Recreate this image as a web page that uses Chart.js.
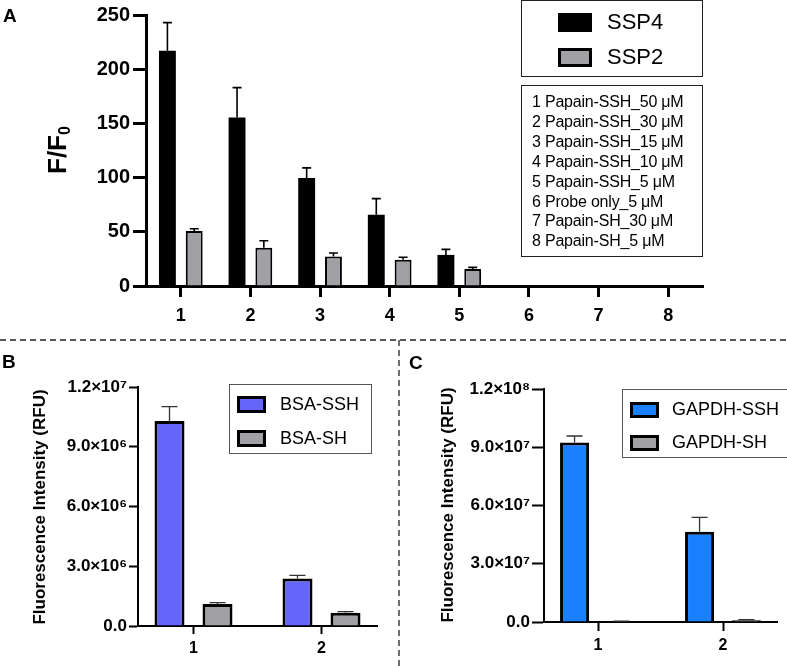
<!DOCTYPE html>
<html>
<head>
<meta charset="utf-8">
<script src="https://cdn.jsdelivr.net/npm/chart.js@4.4.1/dist/chart.umd.min.js"></script>
<style>
  body { margin: 0; background: #fff; font-family: "Liberation Sans", Arial, sans-serif; }
  #fig { position: relative; width: 787px; height: 666px; overflow: hidden; }
  canvas { position: absolute; }
  .panel { position: absolute; font-weight: bold; font-size: 19px; line-height: 1; }
  .ytitle { position: absolute; font-weight: bold; white-space: nowrap; line-height: 1;
            transform: translate(-50%, -50%) rotate(-90deg); }
  .ytitle sub { font-size: 0.62em; vertical-align: -0.25em; }
  .lg { position: absolute; box-sizing: border-box; background: #fff; }
  .lg-row { position: absolute; display: flex; align-items: center; white-space: nowrap; }
  .sw { box-sizing: border-box; flex: none; }
  .samples div { white-space: nowrap; }
</style>
</head>
<body>
<div id="fig">
  <canvas id="chartA" width="787" height="335" style="left:0px;top:0px"></canvas>
  <canvas id="chartB" width="397" height="324" style="left:0px;top:342px"></canvas>
  <canvas id="chartC" width="387" height="324" style="left:400px;top:342px"></canvas>

  <svg width="787" height="666" style="position:absolute;left:0;top:0;pointer-events:none">
    <line x1="0" y1="340" x2="787" y2="340" stroke="#222" stroke-width="1.3" stroke-dasharray="6 4"/>
    <line x1="399" y1="340" x2="399" y2="666" stroke="#222" stroke-width="1.3" stroke-dasharray="6 4"/>
  </svg>

  <div class="panel" style="left:3px;top:6px">A</div>
  <div class="panel" style="left:2px;top:352px">B</div>
  <div class="panel" style="left:409px;top:353px">C</div>

  <div class="ytitle" style="left:58px;top:150px;font-size:26px">F/F<sub>0</sub></div>
  <div class="ytitle" style="left:39px;top:507px;font-size:17px">Fluorescence Intensity (RFU)</div>
  <div class="ytitle" style="left:447px;top:505px;font-size:17px">Fluorescence Intensity (RFU)</div>

  <div id="legA" class="lg" style="left:521px;top:0;width:182px;height:77px;border:1.5px solid #222"></div>
  <div id="samplesA" class="lg samples" style="left:521px;top:85px;width:182px;height:172px;border:1.5px solid #222;padding:6px 0 0 10px;font-size:16px;line-height:19.9px;letter-spacing:-0.2px"></div>
  <div id="legB" class="lg" style="left:229px;top:384px;width:143px;height:70px;border:1px solid #555"></div>
  <div id="legC" class="lg" style="left:622px;top:389px;width:166px;height:69px;border:1px solid #555"></div>
</div>

<script>
// ---- panel A: F/F0, SSP4 vs SSP2 ----
const A_CATS = ['1', '2', '3', '4', '5', '6', '7', '8'];
const A_SSP4 = [217, 155.5, 99.6, 65.8, 28.7, 0, 0, 0];
const A_SSP4_ERR = [26, 27.5, 9.4, 14.8, 5.1, 0, 0, 0];
const A_SSP2 = [50.7, 35.3, 27.2, 24.2, 15.7, 0, 0, 0];
const A_SSP2_ERR = [2.1, 6.4, 3.3, 2.3, 1.5, 0, 0, 0];
const A_SERIES = ['SSP4', 'SSP2'];
const A_SAMPLES = [
  '1 Papain-SSH_50 μM',
  '2 Papain-SSH_30 μM',
  '3 Papain-SSH_15 μM',
  '4 Papain-SSH_10 μM',
  '5 Papain-SSH_5 μM',
  '6 Probe only_5 μM',
  '7 Papain-SH_30 μM',
  '8 Papain-SH_5 μM',
];

// ---- panel B: BSA ----
const B_CATS = ['1', '2'];
const B_SSH = [1.029e7, 2.39e6];
const B_SSH_ERR = [7.2e5, 1.5e5];
const B_SH = [1.1e6, 6.7e5];
const B_SH_ERR = [7e4, 5e4];
const B_SERIES = ['BSA-SSH', 'BSA-SH'];

// ---- panel C: GAPDH ----
const C_CATS = ['1', '2'];
const C_SSH = [9.24e7, 4.65e7];
const C_SSH_ERR = [3.4e6, 7.4e6];
const C_SH = [3e5, 9e5];
const C_SH_ERR = [1e5, 3e5];
const C_SERIES = ['GAPDH-SSH', 'GAPDH-SH'];

const BLACK = '#000';
const GREY = '#a0a0a5';
const BLUE_B = '#6666ff';
const BLUE_C = '#1a80ff';

Chart.defaults.font.family = '"Liberation Sans", Arial, sans-serif';
Chart.defaults.color = '#000';

const SUP = { '0': '⁰', '1': '¹', '2': '²', '3': '³', '4': '⁴', '5': '⁵', '6': '⁶', '7': '⁷', '8': '⁸', '9': '⁹' };
function sci(v) {
  if (v === 0) return '0.0';
  const e = Math.floor(Math.log10(v) + 1e-9);
  const m = v / Math.pow(10, e);
  return m.toFixed(1) + '×10' + String(e).split('').map(d => SUP[d]).join('');
}

// upper-only error bars, drawn from the dataset values through the y scale
const errorBars = {
  id: 'errorBars',
  afterDatasetsDraw(chart, args, opts) {
    const ctx = chart.ctx;
    const y = chart.scales.y;
    chart.data.datasets.forEach((ds, i) => {
      if (!ds.errors) return;
      chart.getDatasetMeta(i).data.forEach((bar, j) => {
        const e = ds.errors[j];
        if (!e) return;
        const top = y.getPixelForValue(ds.data[j] + e);
        ctx.save();
        ctx.strokeStyle = opts.color;
        ctx.lineWidth = opts.width;
        ctx.beginPath();
        ctx.moveTo(bar.x, bar.y);
        ctx.lineTo(bar.x, top);
        ctx.moveTo(bar.x - opts.cap / 2, top);
        ctx.lineTo(bar.x + opts.cap / 2, top);
        ctx.stroke();
        ctx.restore();
      });
    });
  }
};

// Prism draws the x axis a bit shorter than the category band; widen the band
const inset = {
  id: 'inset',
  afterLayout(chart, args, opts) {
    if (!opts.pad) return;
    const s = chart.scales.x;
    s._startPixel -= opts.pad;
    s._endPixel += opts.pad;
    s._length += 2 * opts.pad;
  }
};

function makeBar(id, c) {
  return new Chart(document.getElementById(id), {
    type: 'bar',
    data: { labels: c.labels, datasets: c.datasets },
    options: {
      responsive: false,
      animation: false,
      layout: { padding: c.padding },
      plugins: {
        legend: { display: false },
        tooltip: { enabled: false },
        errorBars: c.err,
        inset: { pad: c.inset || 0 },
      },
      scales: {
        x: {
          offset: true,
          grid: { drawOnChartArea: false, offset: false, tickLength: c.xTick, tickWidth: c.axisW, tickColor: BLACK },
          border: { color: BLACK, width: c.axisW },
          ticks: { font: { size: c.xFont, weight: 'bold' }, padding: c.xPad, maxRotation: 0 },
          afterFit: s => { s.height = c.xH; },
        },
        y: {
          min: 0,
          max: c.max,
          grid: { drawOnChartArea: false, tickLength: c.yTick, tickWidth: c.axisW, tickColor: BLACK },
          border: { color: BLACK, width: c.axisW },
          ticks: { stepSize: c.step, font: { size: c.yFont, weight: 'bold' }, padding: c.yPad, callback: c.fmt },
          afterFit: s => { s.width = c.yW; },
        },
      },
    },
    plugins: [errorBars, inset],
  });
}

makeBar('chartA', {
  labels: A_CATS,
  datasets: [
    { label: A_SERIES[0], data: A_SSP4, errors: A_SSP4_ERR, backgroundColor: BLACK, borderWidth: 0,
      categoryPercentage: 0.77, barPercentage: 0.63 },
    { label: A_SERIES[1], data: A_SSP2, errors: A_SSP2_ERR, backgroundColor: GREY, borderColor: BLACK, borderWidth: 2,
      categoryPercentage: 0.77, barPercentage: 0.63 },
  ],
  padding: { left: 0, right: 84, top: 10, bottom: 0 },
  err: { color: BLACK, width: 1.6, cap: 9 },
  axisW: 3, xTick: 11, xFont: 18, xPad: 8, xH: 49,
  max: 250, step: 50, yTick: 13, yFont: 20, yPad: 3, yW: 146,
  fmt: v => String(v),
});

makeBar('chartB', {
  labels: B_CATS,
  datasets: [
    { label: B_SERIES[0], data: B_SSH, errors: B_SSH_ERR, backgroundColor: BLUE_B, borderColor: BLACK, borderWidth: 3,
      categoryPercentage: 0.75, barPercentage: 0.625 },
    { label: B_SERIES[1], data: B_SH, errors: B_SH_ERR, backgroundColor: GREY, borderColor: BLACK, borderWidth: 3,
      categoryPercentage: 0.75, barPercentage: 0.625 },
  ],
  padding: { left: 0, right: 20, top: 45, bottom: 0 },
  err: { color: '#333', width: 1.3, cap: 16 },
  inset: 8.5,
  axisW: 2, xTick: 8, xFont: 16, xPad: 5, xH: 40,
  max: 1.2e7, step: 3e6, yTick: 9, yFont: 17, yPad: 2, yW: 138,
  fmt: v => sci(v),
});

makeBar('chartC', {
  labels: C_CATS,
  datasets: [
    { label: C_SERIES[0], data: C_SSH, errors: C_SSH_ERR, backgroundColor: BLUE_C, borderColor: BLACK, borderWidth: 3,
      categoryPercentage: 0.75, barPercentage: 0.62 },
    { label: C_SERIES[1], data: C_SH, errors: C_SH_ERR, backgroundColor: GREY, borderColor: BLACK, borderWidth: 3,
      categoryPercentage: 0.75, barPercentage: 0.62 },
  ],
  padding: { left: 0, right: 10, top: 47, bottom: 0 },
  err: { color: '#333', width: 1.3, cap: 16 },
  inset: 8.5,
  axisW: 2, xTick: 9, xFont: 16, xPad: 5, xH: 44,
  max: 1.2e8, step: 3e7, yTick: 12, yFont: 17, yPad: 2, yW: 144,
  fmt: v => sci(v),
});

// ---- HTML legends ----
function legend(id, names, fills, o) {
  const box = document.getElementById(id);
  names.forEach((n, i) => {
    const row = document.createElement('div');
    row.className = 'lg-row';
    row.style.left = o.x + 'px';
    row.style.top = (o.y + i * o.dy) + 'px';
    row.style.fontSize = o.font + 'px';
    const sw = document.createElement('div');
    sw.className = 'sw';
    sw.style.width = o.w + 'px';
    sw.style.height = o.h + 'px';
    sw.style.background = fills[i];
    sw.style.border = (o.plain && o.plain[i]) ? 'none' : o.bw + 'px solid #000';
    sw.style.marginRight = o.gap + 'px';
    row.appendChild(sw);
    row.appendChild(document.createTextNode(n));
    box.appendChild(row);
  });
}

legend('legA', A_SERIES, [BLACK, GREY], { x: 36, y: 8, dy: 35, w: 34, h: 19, bw: 3, gap: 15, font: 22, plain: [true, false] });
legend('legB', B_SERIES, [BLUE_B, GREY], { x: 7, y: 9, dy: 34, w: 29, h: 17, bw: 3.5, gap: 14, font: 18 });
legend('legC', C_SERIES, [BLUE_C, GREY], { x: 7, y: 9, dy: 33, w: 29, h: 16, bw: 3.5, gap: 13, font: 18 });

const samples = document.getElementById('samplesA');
A_SAMPLES.forEach(s => {
  const d = document.createElement('div');
  d.textContent = s;
  samples.appendChild(d);
});
</script>
</body>
</html>
